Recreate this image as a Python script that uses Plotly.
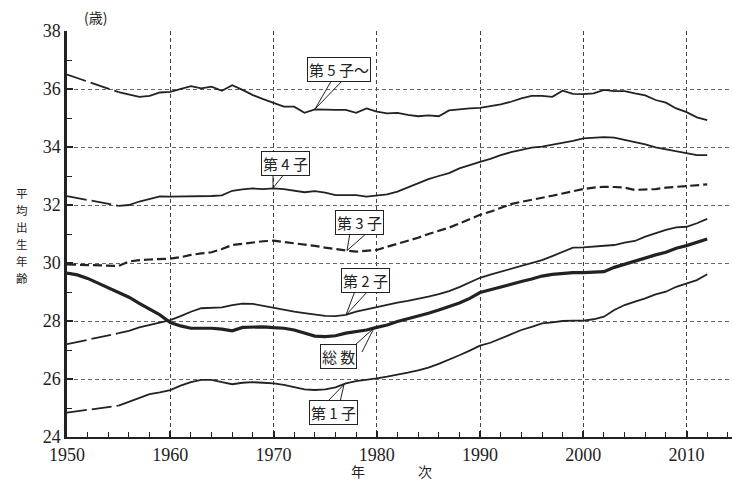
import plotly.graph_objects as go

# ---------------- data ----------------
years_total = list(range(1950, 2013))
years_order = [1950] + list(range(1955, 2013))

total = [29.65, 29.59, 29.47, 29.30, 29.13, 28.98, 28.82, 28.61, 28.40, 28.21,
         27.95, 27.83, 27.75, 27.75, 27.75, 27.72, 27.66, 27.78, 27.80, 27.80,
         27.77, 27.75, 27.69, 27.58, 27.48, 27.46, 27.49, 27.58, 27.63, 27.69,
         27.78, 27.86, 27.98, 28.07, 28.17, 28.27, 28.38, 28.49, 28.62, 28.78,
         28.98, 29.08, 29.18, 29.28, 29.36, 29.45, 29.55, 29.61, 29.64, 29.67,
         29.67, 29.68, 29.70, 29.85, 29.96, 30.05, 30.16, 30.28, 30.37, 30.51,
         30.60, 30.71, 30.83]

first = [24.84,
         25.08, 25.22, 25.36, 25.48, 25.54,
         25.62, 25.77, 25.89, 25.97, 25.97, 25.89, 25.82, 25.87, 25.89, 25.87,
         25.85, 25.80, 25.71, 25.64, 25.62, 25.64, 25.71, 25.85, 25.93, 25.97,
         26.02, 26.08, 26.14, 26.22, 26.30, 26.39, 26.52, 26.66, 26.82, 26.98,
         27.15, 27.25, 27.40, 27.55, 27.69, 27.80, 27.92, 27.95, 28.00, 28.01,
         28.01, 28.06, 28.15, 28.38, 28.55, 28.67, 28.78, 28.92, 29.01, 29.18,
         29.30, 29.41, 29.61]

second = [27.20,
          27.58, 27.66, 27.78, 27.86, 27.94,
          28.03, 28.17, 28.32, 28.44, 28.46, 28.47, 28.55, 28.60, 28.59, 28.52,
          28.45, 28.38, 28.32, 28.27, 28.23, 28.18, 28.17, 28.21, 28.32, 28.40,
          28.47, 28.55, 28.63, 28.69, 28.76, 28.84, 28.93, 29.03, 29.17, 29.33,
          29.49, 29.60, 29.70, 29.80, 29.90, 29.99, 30.10, 30.24, 30.38, 30.53,
          30.54, 30.56, 30.58, 30.62, 30.70, 30.76, 30.91, 31.03, 31.14, 31.23,
          31.25, 31.37, 31.52]

third = [29.95,
         29.90, 30.05, 30.10, 30.12, 30.13,
         30.15, 30.20, 30.28, 30.33, 30.37, 30.48, 30.62, 30.66, 30.71, 30.75,
         30.77, 30.73, 30.68, 30.64, 30.59, 30.53, 30.47, 30.43, 30.39, 30.41,
         30.45, 30.56, 30.66, 30.76, 30.87, 31.00, 31.10, 31.22, 31.36, 31.52,
         31.66, 31.77, 31.89, 32.03, 32.11, 32.17, 32.25, 32.32, 32.40, 32.48,
         32.55, 32.60, 32.63, 32.62, 32.60, 32.52, 32.53, 32.55, 32.60, 32.63,
         32.66, 32.68, 32.71]

fourth = [32.31,
          31.97, 32.00, 32.12, 32.22, 32.30,
          32.29, 32.29, 32.30, 32.31, 32.31, 32.33, 32.49, 32.54, 32.57, 32.55,
          32.57, 32.55, 32.49, 32.44, 32.48, 32.43, 32.34, 32.34, 32.34, 32.29,
          32.33, 32.37, 32.46, 32.60, 32.75, 32.89, 33.00, 33.10, 33.26, 33.38,
          33.49, 33.59, 33.72, 33.82, 33.90, 33.98, 34.01, 34.07, 34.13, 34.21,
          34.30, 34.33, 34.34, 34.32, 34.24, 34.18, 34.09, 33.99, 33.92, 33.86,
          33.78, 33.72, 33.72]

fifth = [36.50,
         35.89, 35.80, 35.73, 35.76, 35.88,
         35.90, 35.99, 36.10, 36.02, 36.08, 35.94, 36.13, 35.97, 35.79, 35.65,
         35.52, 35.39, 35.39, 35.18, 35.30, 35.28, 35.28, 35.28, 35.18, 35.33,
         35.22, 35.16, 35.18, 35.11, 35.06, 35.09, 35.06, 35.26, 35.30, 35.33,
         35.35, 35.40, 35.47, 35.56, 35.68, 35.76, 35.76, 35.73, 35.94, 35.83,
         35.82, 35.85, 35.97, 35.93, 35.93, 35.85, 35.78, 35.62, 35.53, 35.33,
         35.20, 35.02, 34.93]

x_ticks = [1950, 1960, 1970, 1980, 1990, 2000, 2010]
y_ticks = [24, 26, 28, 30, 32, 34, 36, 38]

labels = ["第 1 子", "第 2 子", "第 3 子", "第 4 子", "第 5 子～", "総 数"]
y_title = "平均出生年齢"

# ---------------- figure ----------------
W_PX, H_PX = 732, 481
L, T, B, R = 67, 31, 44, 0
X0, X1 = 1950, 2014.4
Y0, Y1 = 24, 38
PW = W_PX - L - R
PH = H_PX - T - B


def dx(px):
    return X0 + (px - L) / PW * (X1 - X0)


def dy(py):
    return Y0 + (H_PX - B - py) / PH * (Y1 - Y0)


def paper_x(px):
    return (px - L) / PW


def paper_y(py):
    return (H_PX - B - py) / PH


INK = "#222222"
fig = go.Figure()

# solid series with a dashed 1950-55 bridge
for vals in [first, second, fourth, fifth]:
    fig.add_trace(go.Scatter(x=years_order[:2], y=vals[:2], mode="lines",
                             line=dict(color=INK, width=1.8, dash="20px,5px"),
                             showlegend=False, hoverinfo="skip"))
    fig.add_trace(go.Scatter(x=years_order[1:], y=vals[1:], mode="lines",
                             line=dict(color=INK, width=1.8),
                             showlegend=False))

fig.add_trace(go.Scatter(x=years_order, y=third, mode="lines",
                         line=dict(color=INK, width=2.2, dash="9px,4px"),
                         showlegend=False))
fig.add_trace(go.Scatter(x=years_total, y=total, mode="lines",
                         line=dict(color=INK, width=3.2),
                         showlegend=False))

# callout labels: (text, box centre px, wedge base px pair, target px)
callouts = [
    (labels[4], (339, 69), ((333, 78), (345, 78)), (315, 109)),
    (labels[3], (285.5, 163), ((273, 173), (285, 173)), (273, 188)),
    (labels[2], (359, 222.5), ((350, 233), (367, 233)), (347, 250.5)),
    (labels[1], (365, 280), ((355, 291), (368, 291)), (346, 315)),
    (labels[5], (338, 356), ((354, 346), (362, 352)), (374, 328)),
    (labels[0], (333, 412.5), ((327, 402), (340, 402)), (344, 384.5)),
]
shapes = []
annotations = []
for text, (cx, cy), ((ax1, ay1), (ax2, ay2)), (tx, ty) in callouts:
    shapes.append(dict(type="path", xref="x", yref="y",
                       path=f"M {dx(ax1)},{dy(ay1)} L {dx(tx)},{dy(ty)} L {dx(ax2)},{dy(ay2)}",
                       line=dict(color=INK, width=1)))
    annotations.append(dict(x=dx(cx), y=dy(cy), xref="x", yref="y", text=text,
                            showarrow=False, bgcolor="white", bordercolor=INK,
                            borderwidth=1, borderpad=1,
                            font=dict(family="Noto Sans CJK JP", size=15, color=INK)))

# vertical axis title, one character per line
for i, ch in enumerate(y_title):
    annotations.append(dict(text=ch, xref="paper", yref="paper",
                            x=paper_x(22), y=paper_y(193 + i * 17), showarrow=False,
                            xanchor="center", yanchor="middle",
                            font=dict(family="Noto Sans CJK JP", size=11.5, color=INK)))
annotations.append(dict(text="(歳)", xref="paper", yref="paper",
                        x=paper_x(95), y=paper_y(17), showarrow=False,
                        xanchor="center", yanchor="middle",
                        font=dict(family="Noto Sans CJK JP", size=14, color=INK)))
for ch, px in [("年", 358), ("次", 425)]:
    annotations.append(dict(text=ch, xref="paper", yref="paper",
                            x=paper_x(px), y=paper_y(471), showarrow=False,
                            xanchor="center", yanchor="middle",
                            font=dict(family="Noto Sans CJK JP", size=14, color=INK)))

tick_font = dict(family="Liberation Serif", size=18, color=INK)
fig.update_layout(
    width=W_PX, height=H_PX,
    margin=dict(l=L, r=R, t=T, b=B, pad=0),
    paper_bgcolor="white", plot_bgcolor="white",
    shapes=shapes, annotations=annotations,
    xaxis=dict(range=[X0, X1], tickvals=x_ticks, ticktext=[str(v) for v in x_ticks],
               showgrid=True, gridcolor="#444444", gridwidth=1, griddash="4px,3px",
               showline=True, linecolor=INK, linewidth=2,
               ticks="inside", ticklen=6, tickwidth=2, tickcolor=INK,
               minor=dict(dtick=2, tick0=1950, ticks="inside", ticklen=5,
                          tickwidth=1, tickcolor=INK, showgrid=False),
               zeroline=False, tickfont=tick_font),
    yaxis=dict(range=[Y0, Y1], tickvals=y_ticks, ticktext=[str(v) for v in y_ticks],
               showgrid=True, gridcolor="#666666", gridwidth=1, griddash="4px,3px",
               showline=True, linecolor=INK, linewidth=2.5,
               ticks="inside", ticklen=6, tickwidth=2, tickcolor=INK,
               minor=dict(dtick=1, tick0=24, ticks="inside", ticklen=5,
                          tickwidth=1, tickcolor=INK, showgrid=False),
               zeroline=False, tickfont=tick_font),
)

fig.write_html("out.html", config={"displayModeBar": False},
               post_script="document.body.style.margin='0';document.body.style.overflow='hidden';")
